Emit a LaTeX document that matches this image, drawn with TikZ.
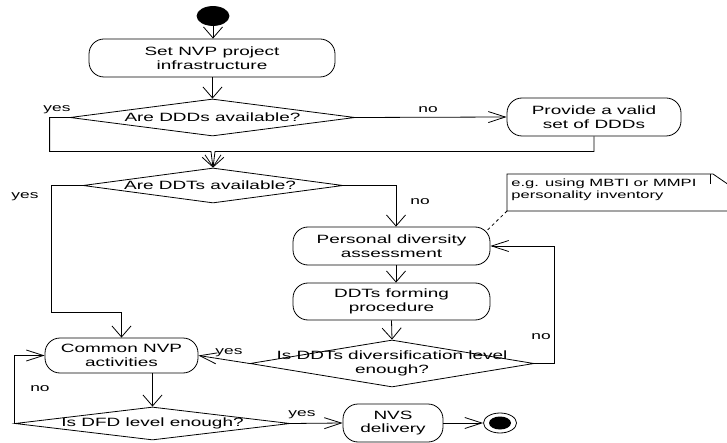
\documentclass[tikz,border=0pt]{standalone}
\usepackage{fontspec}
\setmainfont{Liberation Sans}[FakeStretch=1.58]
\usetikzlibrary{arrows.meta,shapes.geometric}
\begin{document}
\begin{tikzpicture}[x=1pt,y=-1pt, line width=0.8pt,
  act/.style={draw, rounded corners=15pt, inner sep=0pt, align=center, font=\fontsize{12}{13.5}\selectfont},
  dia/.style={draw, diamond, inner sep=0pt},
  dtext/.style={align=center, font=\fontsize{12}{13.5}\selectfont, inner sep=0pt},
  lab/.style={font=\fontsize{11}{12}\selectfont, inner sep=0pt},
  varr/.style={-{Straight Barb[length=11pt,width=19pt]}},
  harr/.style={-{Straight Barb[length=17pt,width=11pt]}},
]
\fill[white] (0,0) rectangle (727,443);
\useasboundingbox (0,0) rectangle (727,443);

% start / end
\node[draw, fill=black, ellipse, minimum width=32pt, minimum height=19pt, inner sep=0pt] (start) at (213,16) {};
\node[draw, ellipse, minimum width=33pt, minimum height=20pt, inner sep=0pt] (end) at (500,423) {};
\node[fill=black, ellipse, minimum width=22pt, minimum height=13pt, inner sep=0pt] (endin) at (end) {};

% activities
\node[act, minimum width=246pt, minimum height=38pt] (setnvp) at (212,58) {Set NVP project\\infrastructure};
\node[act, minimum width=174pt, minimum height=38pt] (provide) at (594,117) {Provide a valid\\set of DDDs};
\node[act, minimum width=197pt, minimum height=38pt] (pda) at (391.5,246) {Personal diversity\\assessment};
\node[act, minimum width=197pt, minimum height=37pt] (ddtf) at (391.5,301.5) {DDTs forming\\procedure};
\node[act, minimum width=153pt, minimum height=35pt] (common) at (121.5,355.5) {Common NVP\\activities};
\node[act, minimum width=100pt, minimum height=38pt] (nvs) at (393,423) {NVS\\delivery};

% decisions
\node[dia, minimum width=285pt, minimum height=37pt] (d1) at (212.5,117.5) {};
\node[dtext] (d1t) at (d1) {Are DDDs available?};
\node[dia, minimum width=260pt, minimum height=35pt] (d2) at (213,185.5) {};
\node[dtext] (d2t) at (210,185.5) {Are DDTs available?};
\node[dia, minimum width=284pt, minimum height=47pt] (d3) at (392,363.5) {};
\node[dtext] (d3t) at (d3) {Is DDTs diversification level\\enough?};
\node[dia, minimum width=275pt, minimum height=33pt] (d4) at (152.5,423.5) {};
\node[dtext] (d4t) at (d4) {Is DFD level enough?};

% note
\draw (507,174) -- (713,174) -- (729,185) -- (729,211) -- (507,211) -- cycle;
\draw (710,174) -- (710,184);
\coordinate (notecorner) at (507,211);
\node[anchor=north west, inner sep=0pt, align=left, font=\fontsize{10.5}{12.5}\selectfont] (note) at (511,178) {e.g. using MBTI or MMPI\\personality inventory};
\draw[dashed] (notecorner) -- ([xshift=-4pt,yshift=-4.5pt]pda.north east);

% connectors
\draw[varr] (start) -- (start |- setnvp.north);
\draw[varr] (setnvp.south -| d1.north) -- (d1.north);
\draw[harr] (d1.east) -- (provide.west);
\draw[varr] (d1.west) -- ++(-20,0) |- ([xshift=-2pt,yshift=16pt]d2.north) -- (d2.north);
\draw[varr] (provide.south) |- ([xshift=2pt,yshift=16pt]d2.north) -- (d2.north);
\draw[varr] (d2.west) -- ++(-31,0) |- ([yshift=25pt]common.north) -- (common.north);
\draw[varr] (d2.east) -| ([xshift=4.5pt]pda.north);
\draw[varr] ([xshift=4.5pt]pda.south) -- ([xshift=4.5pt]ddtf.north);
\draw[varr] (ddtf.south) -- (d3.north);
\draw[harr] (d3.east) -- ++(20,0) |- (pda.east);
\draw[harr] (d3.west) -- (common.east);
\draw[varr] (common.south -| d4.north) -- (d4.north);
\draw[harr] (d4.west) |- (common.west);
\draw[harr] (d4.east) -- (nvs.west);
\draw[harr] (nvs.east) -- (end.west);

% labels
\node[lab] (yes1) at (57,110) {yes};
\node[lab] (no1) at (428,110) {no};
\node[lab] (yes2) at (25,197) {yes};
\node[lab] (no2) at (420,202) {no};
\node[lab] (no3) at (541,337) {no};
\node[lab] (yes3) at (229,353) {yes};
\node[lab] (no4) at (40,389) {no};
\node[lab] (yes4) at (302,415) {yes};
\end{tikzpicture}
\end{document}
